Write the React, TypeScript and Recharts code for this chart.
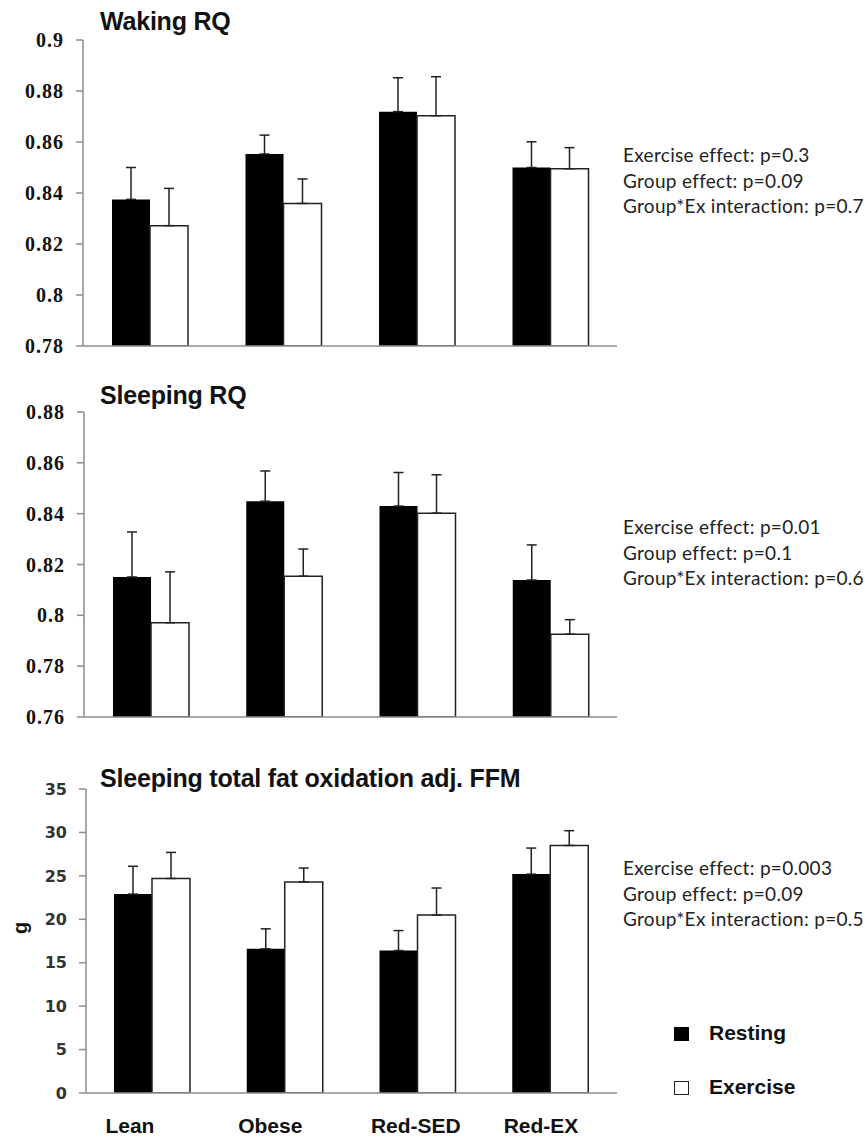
import React from 'react';
import { BarChart, Bar, XAxis, YAxis, ErrorBar } from 'recharts';

const categories = ['Lean', 'Obese', 'Red-SED', 'Red-EX'];

const wakingResting = [0.8375, 0.8553, 0.8719, 0.85];
const wakingExercise = [0.8272, 0.8359, 0.8703, 0.8495];
const wakingRestingErr = [0.0125, 0.0074, 0.0133, 0.0101];
const wakingExerciseErr = [0.0146, 0.0096, 0.0153, 0.0083];
const wakingTicks = [0.78, 0.8, 0.82, 0.84, 0.86, 0.88, 0.9];

const sleepingResting = [0.8151, 0.8449, 0.843, 0.8139];
const sleepingExercise = [0.7971, 0.8154, 0.8402, 0.7926];
const sleepingRestingErr = [0.0177, 0.0119, 0.0132, 0.0138];
const sleepingExerciseErr = [0.02, 0.0107, 0.0151, 0.0057];
const sleepingTicks = [0.76, 0.78, 0.8, 0.82, 0.84, 0.86, 0.88];

const fatResting = [22.9, 16.6, 16.4, 25.2];
const fatExercise = [24.7, 24.3, 20.5, 28.5];
const fatRestingErr = [3.2, 2.3, 2.3, 3.0];
const fatExerciseErr = [3.0, 1.6, 3.1, 1.7];
const fatTicks = [0, 5, 10, 15, 20, 25, 30, 35];

const wakingStats = ['Exercise effect: p=0.3', 'Group effect: p=0.09', 'Group*Ex interaction: p=0.7'];
const sleepingStats = ['Exercise effect: p=0.01', 'Group effect: p=0.1', 'Group*Ex interaction: p=0.6'];
const fatStats = ['Exercise effect: p=0.003', 'Group effect: p=0.09', 'Group*Ex interaction: p=0.5'];

const seriesNames = ['Resting', 'Exercise'];

function buildRows(res: number[], ex: number[], resErr: number[], exErr: number[]) {
  return categories.map((cat, i) => ({
    cat,
    resting: res[i],
    exercise: ex[i],
    restingErr: [0, resErr[i]],
    exerciseErr: [0, exErr[i]],
  }));
}

const wakingData = buildRows(wakingResting, wakingExercise, wakingRestingErr, wakingExerciseErr);
const sleepingData = buildRows(sleepingResting, sleepingExercise, sleepingRestingErr, sleepingExerciseErr);
const fatData = buildRows(fatResting, fatExercise, fatRestingErr, fatExerciseErr);

const AXIS = '#8c8c8c';

const CatTick = (props: any) => {
  const { x, y, payload } = props;
  return (
    <text
      x={x - 47}
      y={y + 32}
      fontFamily="Liberation Sans, Arial, sans-serif"
      fontWeight="bold"
      fontSize={21}
      fill="#111"
    >
      {payload.value}
    </text>
  );
};

type PanelProps = {
  data: any[];
  ticks: number[];
  top: number;
  height: number;
  marginTop: number;
  marginBottom: number;
  yWidth: number;
  tickStyle: any;
  showCats?: boolean;
};

function Panel({ data, ticks, top, height, marginTop, marginBottom, yWidth, tickStyle, showCats }: PanelProps) {
  return (
    <div style={{ position: 'absolute', left: 0, top }}>
      <BarChart
        width={640}
        height={height}
        data={data}
        margin={{ top: marginTop, right: 23, bottom: marginBottom, left: 0 }}
        barGap={0}
        barSize={38}
      >
        {showCats ? (
          <XAxis
            dataKey="cat"
            height={45}
            tickLine={false}
            axisLine={{ stroke: AXIS, strokeWidth: 1.5 }}
            tick={<CatTick />}
            interval={0}
          />
        ) : (
          <XAxis dataKey="cat" height={1} tick={false} tickLine={false} axisLine={{ stroke: AXIS, strokeWidth: 1.5 }} />
        )}
        <YAxis
          width={yWidth}
          domain={[ticks[0], ticks[ticks.length - 1]]}
          ticks={ticks}
          interval={0}
          allowDataOverflow
          tickSize={7}
          tickMargin={12}
          axisLine={{ stroke: AXIS, strokeWidth: 1.5 }}
          tickLine={{ stroke: AXIS, strokeWidth: 1.5 }}
          tick={tickStyle}
        />
        <Bar dataKey="resting" name={seriesNames[0]} fill="#000" isAnimationActive={false}>
          <ErrorBar dataKey="restingErr" width={5} stroke="#222" strokeWidth={1.5} />
        </Bar>
        <Bar dataKey="exercise" name={seriesNames[1]} fill="#fff" stroke="#222" strokeWidth={1.5} isAnimationActive={false}>
          <ErrorBar dataKey="exerciseErr" width={5} stroke="#222" strokeWidth={1.5} />
        </Bar>
      </BarChart>
    </div>
  );
}

const rqTick = { fill: '#111', fontSize: 20, fontWeight: 'bold', fontFamily: 'Liberation Serif, serif', letterSpacing: 1 };
const fatTick = { fill: '#333', fontSize: 16, fontWeight: 'bold', fontFamily: 'DejaVu Sans, sans-serif' };

const titleStyle: React.CSSProperties = {
  position: 'absolute',
  left: 100,
  fontFamily: 'Liberation Sans, Arial, sans-serif',
  fontWeight: 'bold',
  fontSize: 25,
  lineHeight: '25px',
  color: '#111',
  whiteSpace: 'nowrap',
  letterSpacing: '-0.2px',
};

const statStyle: React.CSSProperties = {
  position: 'absolute',
  left: 623,
  fontFamily: 'Lato, sans-serif',
  fontSize: 19,
  lineHeight: '25.5px',
  letterSpacing: '0.3px',
  color: '#222',
  whiteSpace: 'nowrap',
};

function Stats({ lines, top }: { lines: string[]; top: number }) {
  return (
    <div style={{ ...statStyle, top }}>
      {lines.map((l) => (
        <div key={l}>{l}</div>
      ))}
    </div>
  );
}

const legendText: React.CSSProperties = {
  position: 'absolute',
  left: 709,
  fontFamily: 'Liberation Sans, Arial, sans-serif',
  fontWeight: 'bold',
  fontSize: 21,
  lineHeight: '24px',
  color: '#111',
};

export default function App() {
  return (
    <div style={{ position: 'absolute', left: 0, top: 0, width: 865, height: 1138, background: '#fff', overflow: 'hidden' }}>
      <Panel data={wakingData} ticks={wakingTicks} top={0} height={360} marginTop={40} marginBottom={13} yWidth={83} tickStyle={rqTick} />
      <Panel data={sleepingData} ticks={sleepingTicks} top={360} height={370} marginTop={52} marginBottom={12} yWidth={84} tickStyle={rqTick} />
      <Panel data={fatData} ticks={fatTicks} top={730} height={408} marginTop={59} marginBottom={0} yWidth={86} tickStyle={fatTick} showCats />

      <div style={{ ...titleStyle, top: 9 }}>Waking RQ</div>
      <div style={{ ...titleStyle, top: 383 }}>Sleeping RQ</div>
      <div style={{ ...titleStyle, top: 766 }}>Sleeping total fat oxidation adj. FFM</div>

      <Stats lines={wakingStats} top={142} />
      <Stats lines={sleepingStats} top={514} />
      <Stats lines={fatStats} top={855} />

      <div
        style={{
          position: 'absolute',
          left: 20,
          top: 928,
          transform: 'translate(-50%, -50%) rotate(-90deg)',
          fontFamily: 'Liberation Sans, Arial, sans-serif',
          fontWeight: 'bold',
          fontSize: 20,
          color: '#111',
        }}
      >
        g
      </div>

      <div style={{ position: 'absolute', left: 674, top: 1027, width: 15, height: 14, background: '#000' }} />
      <div style={{ position: 'absolute', left: 674, top: 1081, width: 15, height: 14, background: '#fff', border: '1.5px solid #222', boxSizing: 'border-box' }} />
      <div style={{ ...legendText, top: 1021 }}>{seriesNames[0]}</div>
      <div style={{ ...legendText, top: 1075 }}>{seriesNames[1]}</div>
    </div>
  );
}
